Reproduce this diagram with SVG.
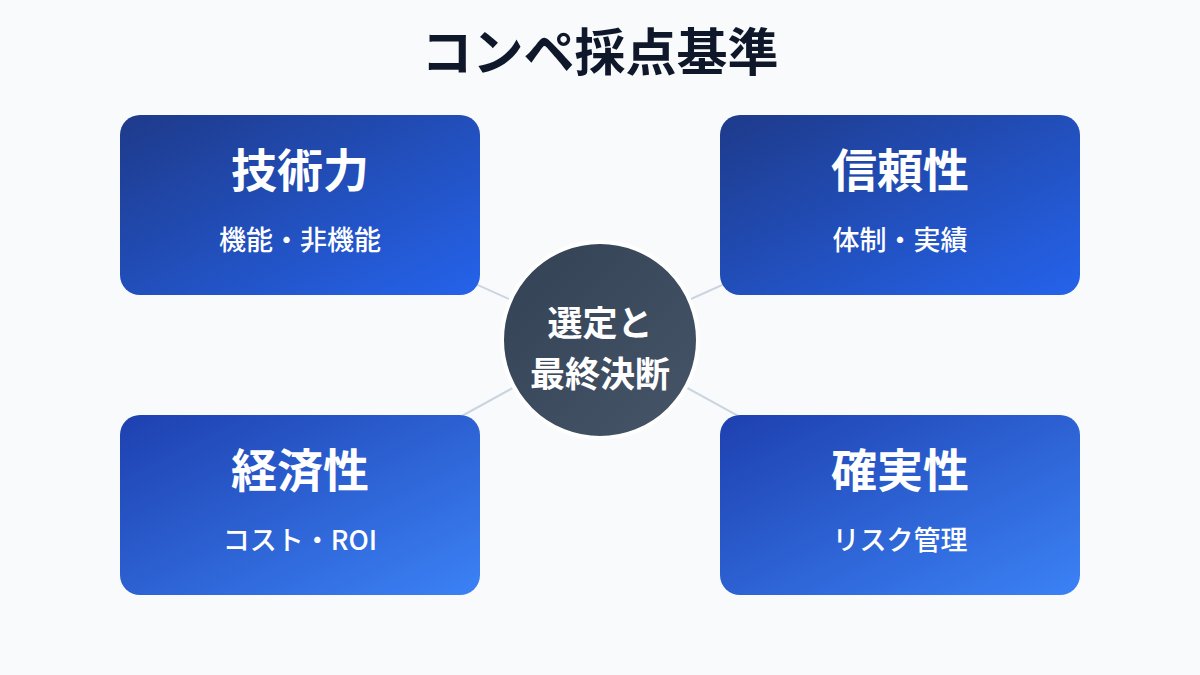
<svg xmlns="http://www.w3.org/2000/svg" width="1200" height="675" viewBox="0 0 1200 675">
<style>
.title{font-family:"Noto Sans CJK JP","Noto Sans",sans-serif;font-weight:700;font-size:51px;fill:#0f172a;text-anchor:middle}
.h{font-family:"Noto Sans CJK JP","Noto Sans",sans-serif;font-weight:700;font-size:46px;fill:#ffffff;text-anchor:middle}
.s{font-family:"Noto Sans CJK JP","Noto Sans",sans-serif;font-weight:500;font-size:27px;fill:#ffffff;text-anchor:middle}
.c{font-family:"Noto Sans CJK JP","Noto Sans",sans-serif;font-weight:700;font-size:35px;fill:#ffffff;text-anchor:middle}
.conn{stroke:#cbd5e1;stroke-width:2;fill:none}
</style>
<defs>
<linearGradient id="gTop" x1="0" y1="0" x2="1" y2="1">
<stop offset="0" stop-color="#1e3a8a"/><stop offset="1" stop-color="#2563eb"/>
</linearGradient>
<linearGradient id="gBot" x1="0" y1="0" x2="1" y2="1">
<stop offset="0" stop-color="#1e40af"/><stop offset="1" stop-color="#3b82f6"/>
</linearGradient>
<linearGradient id="gC" x1="0" y1="0" x2="1" y2="1">
<stop offset="0" stop-color="#334155"/><stop offset="1" stop-color="#475569"/>
</linearGradient>
</defs>
<rect width="1200" height="675" fill="#f8fafc"/>
<text class="title" x="600" y="71">コンペ採点基準</text>
<g id="connectors">
<line class="conn" x1="300" y1="205" x2="600" y2="340"/>
<line class="conn" x1="900" y1="205" x2="600" y2="340"/>
<line class="conn" x1="300" y1="505" x2="600" y2="340"/>
<line class="conn" x1="900" y1="505" x2="600" y2="340"/>
</g>
<g id="node-tech">
<rect x="120" y="115" width="360" height="180" rx="20" fill="url(#gTop)"/>
<text class="h" x="300" y="187">技術力</text>
<text class="s" x="300" y="250">機能・非機能</text>
</g>
<g id="node-trust">
<rect x="720" y="115" width="360" height="180" rx="20" fill="url(#gTop)"/>
<text class="h" x="900" y="187">信頼性</text>
<text class="s" x="900" y="250">体制・実績</text>
</g>
<g id="node-econ">
<rect x="120" y="415" width="360" height="180" rx="20" fill="url(#gBot)"/>
<text class="h" x="300" y="487">経済性</text>
<text class="s" x="300" y="550">コスト・ROI</text>
</g>
<g id="node-cert">
<rect x="720" y="415" width="360" height="180" rx="20" fill="url(#gBot)"/>
<text class="h" x="900" y="487">確実性</text>
<text class="s" x="900" y="550">リスク管理</text>
</g>
<g id="node-center">
<circle cx="600" cy="340" r="98" fill="url(#gC)" stroke="#ffffff" stroke-width="4"/>
<text class="c" x="600" y="336">選定と</text>
<text class="c" x="600" y="387">最終決断</text>
</g>
</svg>
